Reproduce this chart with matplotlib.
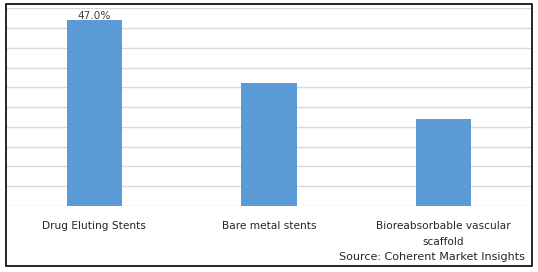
import numpy as np
import matplotlib.pyplot as plt
from matplotlib.patches import Rectangle

# Data
categories = ['Drug Eluting Stents', 'Bare metal stents', 'Bioreabsorbable vascular\nscaffold']
shares = [47.0, 31.0, 22.0]
labelled = [True, False, False]
source = 'Source: Coherent Market Insights'

W, H = 538, 272
fig = plt.figure(figsize=(W/100, H/100), dpi=100)
fig.patch.set_facecolor('white')

# axes placed in pixel coordinates
x0, x1, ytop, ybot = 7, 531, 8.3, 206
ax = fig.add_axes([x0/W, (H-ybot)/H, (x1-x0)/W, (ybot-ytop)/H])

x = np.arange(len(categories))
bars = ax.bar(x, shares, width=0.315, color='#5b9bd5', zorder=3)
ax.set_xlim(-0.5, len(categories)-0.5)
ax.set_ylim(0, 50)
ax.set_yticks(np.arange(0, 51, 5))
ax.yaxis.grid(True, color='#d9d9d9', linewidth=1)
ax.set_axisbelow(True)
for s in ax.spines.values():
	s.set_visible(False)
ax.tick_params(left=False, bottom=False, labelleft=False)
ax.set_xticks(x)
ax.set_xticklabels(categories, fontsize=7.6, color='#262626', linespacing=1.85)
ax.tick_params(axis='x', pad=7)

for b, v, lab in zip(bars, shares, labelled):
	if lab:
		ax.text(b.get_x()+b.get_width()/2, v-0.2, '%.1f%%' % v, ha='center', va='bottom',
			fontsize=7.6, color='#404040')

fig.text(524.5/W, 1-256.5/H, source, ha='right', va='center', fontsize=8, color='#262626')

# outer border
fig.patches.append(Rectangle((6/W, 1-266/H), 526/W, 262/H, transform=fig.transFigure,
	fill=False, edgecolor='black', linewidth=1.2))

plt.savefig('out.png', dpi=100)
plt.close()
